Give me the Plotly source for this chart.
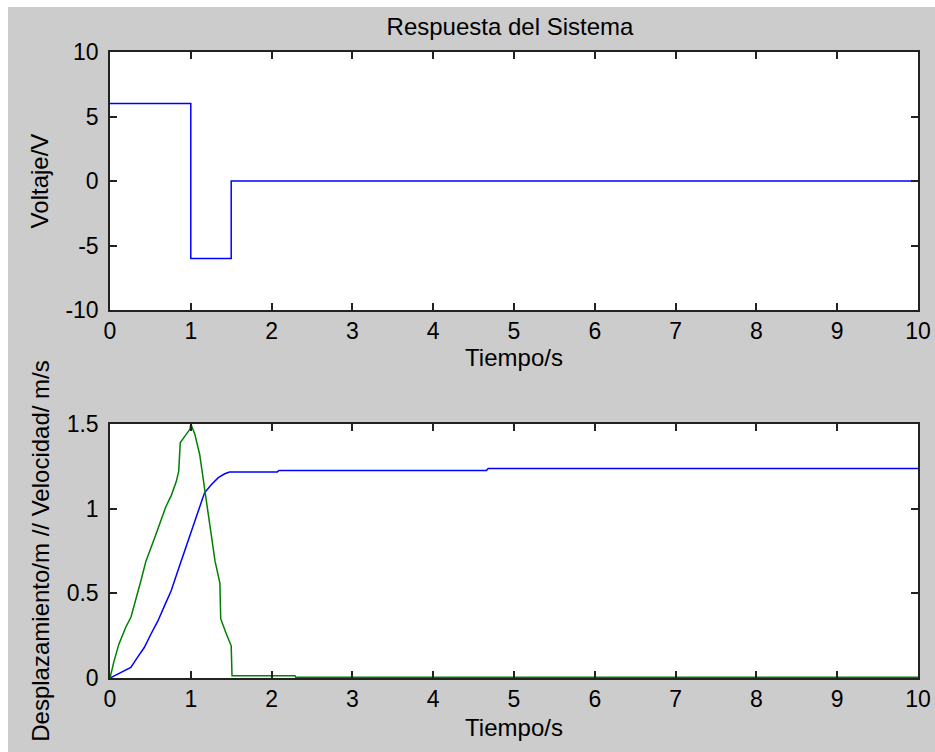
import plotly.graph_objects as go

# ---- data ----
t_volt = [0, 1, 1, 1.5, 1.5, 10]
volt = [6, 6, -6, -6, 0, 0]

t_vel = [0, 0.05, 0.11, 0.195, 0.26, 0.32, 0.38, 0.445, 0.51, 0.57, 0.63, 0.69, 0.76, 0.82,
         0.85, 0.87, 0.93, 0.99, 1.0, 1.05, 1.11, 1.17, 1.235, 1.30, 1.36, 1.37, 1.44, 1.50,
         1.51, 2.29, 2.30, 10]
vel = [0, 0.10, 0.20, 0.30, 0.36, 0.46, 0.57, 0.69, 0.77, 0.85, 0.93, 1.01, 1.08, 1.16,
       1.22, 1.39, 1.43, 1.47, 1.50, 1.44, 1.32, 1.12, 0.89, 0.69, 0.56, 0.35, 0.26, 0.19,
       0.014, 0.014, 0.004, 0.004]

t_disp = [0, 0.133, 0.258, 0.34, 0.424, 0.507, 0.59, 0.674, 0.757, 0.84, 0.923, 1.006,
          1.09, 1.17, 1.256, 1.34, 1.42, 1.48, 2.07, 2.09, 4.66, 4.68, 10]
disp = [0, 0.033, 0.063, 0.122, 0.18, 0.26, 0.334, 0.426, 0.515, 0.633, 0.75, 0.868,
        0.986, 1.094, 1.143, 1.183, 1.206, 1.216, 1.216, 1.226, 1.226, 1.237, 1.237]

x_ticks = list(range(0, 11))
y1_ticks = [-10, -5, 0, 5, 10]
y1_ticklabels = ["-10", "-5", "0", "5", "10"]
y2_ticks = [0, 0.5, 1, 1.5]
y2_ticklabels = ["0", "0.5", "1", "1.5"]

title_text = "Respuesta del Sistema"
x_title = "Tiempo/s"
y1_title = "Voltaje/V"
y2_title = "Desplazamiento/m // Velocidad/ m/s"

# ---- figure ----
FAM = "Arial, Liberation Sans, sans-serif"
TICKFONT = dict(family=FAM, size=23, color="#000000")
LABFONT = dict(family=FAM, size=24, color="#000000")
GRAY = "#cccccc"

fig = go.Figure()
fig.add_trace(go.Scatter(x=t_volt, y=volt, mode="lines", line=dict(color="#0000ff", width=1.5),
                         xaxis="x", yaxis="y", showlegend=False))
fig.add_trace(go.Scatter(x=t_disp, y=disp, mode="lines", line=dict(color="#0000ff", width=1.5),
                         xaxis="x2", yaxis="y2", showlegend=False))
fig.add_trace(go.Scatter(x=t_vel, y=vel, mode="lines", line=dict(color="#008000", width=1.5),
                         xaxis="x2", yaxis="y2", showlegend=False))

axis_common = dict(showgrid=False, zeroline=False, showline=True, linecolor="#222222",
                   linewidth=1.5, mirror="ticks", ticks="inside", ticklen=7,
                   tickcolor="#222222", tickwidth=1.5, tickfont=TICKFONT, automargin=False)

W, Hf = 935, 752
L, R, T, B = 110, 17, 52, 74
H = Hf - T - B
PW = W - L - R
fig.update_layout(
    width=W, height=Hf, autosize=False,
    margin=dict(l=L, r=R, t=T, b=B, autoexpand=False),
    paper_bgcolor=GRAY, plot_bgcolor="white",
    font=LABFONT,
    xaxis=dict(domain=[0, 1], anchor="y", range=[0, 10], tickvals=x_ticks,
               ticklabelstandoff=0,
               title=dict(text=x_title, font=LABFONT, standoff=6), **axis_common),
    yaxis=dict(domain=[1 - 258 / H, 1], anchor="x", range=[-10, 10], tickvals=y1_ticks,
               ticktext=y1_ticklabels, ticklabelstandoff=5,
               title=dict(text=y1_title, font=LABFONT, standoff=10), **axis_common),
    xaxis2=dict(domain=[0, 1], anchor="y2", range=[0, 10], tickvals=x_ticks,
                ticklabelstandoff=0,
                title=dict(text=x_title, font=LABFONT, standoff=8), **axis_common),
    yaxis2=dict(domain=[0, 1 - 372 / H], anchor="x2", range=[0, 1.5], tickvals=y2_ticks,
                ticktext=y2_ticklabels, ticklabelstandoff=5,
                title=dict(text=y2_title, font=LABFONT, standoff=10), **axis_common),
    title=dict(text=title_text, font=LABFONT, x=(L + 400) / W, xanchor="center",
               y=1 - 27 / Hf, yanchor="middle"),
)

# white strips at the top and left edge of the image (outside the gray figure)
fig.add_shape(type="rect", xref="paper", yref="paper", x0=-L / PW, x1=1 + R / PW,
              y0=1 + (T - 7) / H, y1=1 + T / H, line=dict(width=0), fillcolor="white",
              layer="below")
fig.add_shape(type="rect", xref="paper", yref="paper", x0=-L / PW, x1=-(L - 8) / PW,
              y0=-B / H, y1=1 + T / H, line=dict(width=0), fillcolor="white", layer="below")

fig.write_html("out.html", config={"displayModeBar": False},
               post_script="document.body.style.margin='0';document.body.style.overflow='hidden';")
